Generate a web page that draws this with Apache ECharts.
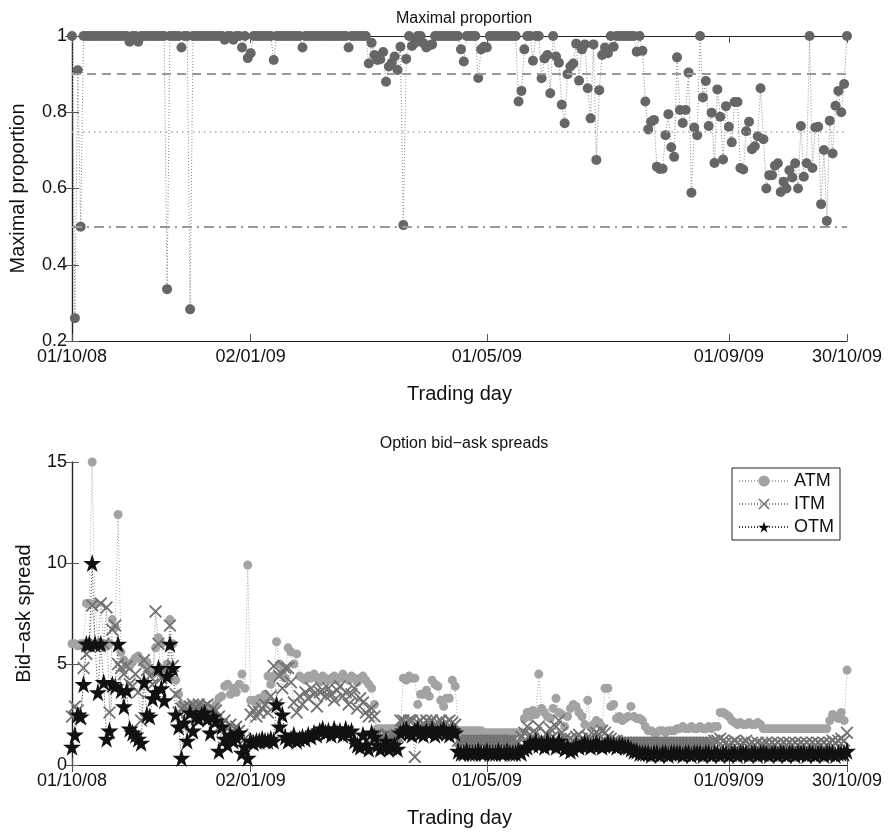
<!DOCTYPE html>
<html>
<head>
<meta charset="utf-8">
<script src="https://cdn.jsdelivr.net/npm/echarts@6/dist/echarts.min.js"></script>
<style>
  html, body { margin: 0; padding: 0; background: #fff; }
  #chart { width: 890px; height: 833px; }
</style>
</head>
<body>
<div id="chart"></div>
<script>
// trading-day ticks (index of trading day) and their date labels
var tickIdx = [0, 62, 144, 228, 269];
var tickLabels = ['01/10/08', '02/01/09', '01/05/09', '01/09/09', '30/10/09'];

// reference levels in the top panel
var refLines = [0.9, 0.75, 0.5];

// maximal proportion, one value per trading day
var maxProp = [
  1, 0.26, 0.91, 0.5, 1, 1, 1, 1, 1, 1,
  1, 1, 1, 1, 1, 1, 1, 1, 1, 1,
  0.985, 1, 1, 0.985, 1, 1, 1, 1, 1, 1,
  1, 1, 1, 0.336, 1, 1, 1, 1, 0.97, 1,
  1, 0.283, 1, 1, 1, 1, 1, 1, 1, 1,
  1, 1, 1, 0.99, 1, 1, 0.99, 1, 1, 0.97,
  1, 0.942, 0.955, 1, 1, 1, 1, 1, 1, 1,
  0.937, 1, 1, 1, 1, 1, 1, 1, 1, 1,
  0.97, 1, 1, 1, 1, 1, 1, 1, 1, 1,
  1, 1, 1, 1, 1, 1, 0.97, 1, 1, 1,
  1, 1, 1, 0.928, 0.982, 0.95, 0.937, 0.939, 0.958, 0.88,
  0.92, 0.93, 0.946, 0.911, 0.972, 0.504, 0.94, 1, 0.974, 0.982,
  1, 1, 0.981, 0.97, 0.975, 0.978, 1, 1, 1, 1,
  1, 1, 1, 1, 1, 0.965, 0.933, 1, 1, 1,
  1, 0.89, 0.965, 0.972, 0.97, 1, 1, 1, 1, 1,
  1, 1, 1, 1, 1, 0.828, 0.856, 0.965, 1, 1,
  0.935, 1, 1, 0.889, 0.941, 0.95, 0.85, 1, 0.946, 0.93,
  0.82, 0.771, 0.9, 0.92, 0.928, 0.98, 0.883, 0.965, 0.978, 0.863,
  0.784, 0.978, 0.675, 0.858, 0.95, 0.97, 0.955, 1, 0.972, 1,
  1, 1, 1, 1, 1, 1, 0.959, 1, 0.961, 0.828,
  0.755, 0.775, 0.78, 0.657, 0.651, 0.652, 0.74, 0.795, 0.708, 0.683,
  0.944, 0.806, 0.772, 0.806, 0.904, 0.589, 0.76, 0.74, 1, 0.839,
  0.882, 0.764, 0.799, 0.667, 0.86, 0.788, 0.676, 0.816, 0.762, 0.721,
  0.827, 0.827, 0.654, 0.65, 0.75, 0.775, 0.703, 0.711, 0.737, 0.863,
  0.729, 0.6, 0.635, 0.635, 0.66, 0.666, 0.591, 0.618, 0.6, 0.648,
  0.629, 0.666, 0.6, 0.764, 0.631, 0.666, 1, 0.654, 0.76, 0.762,
  0.559, 0.701, 0.515, 0.778, 0.692, 0.817, 0.856, 0.8, 0.874, 1
];

// option bid-ask spreads
var atm = [
  6.0, 6.0, 5.9, 6.0, 6.0, 8.0, 8.0, 15.0, 8.0, 6.0,
  6.0, 6.0, 5.9, 6.0, 7.2, 6.8, 12.4, 5.6, 5.2, 5.0,
  4.9, 5.1, 5.3, 5.4, 5.2, 5.0, 5.1, 4.7, 4.5, 5.8,
  6.3, 6.0, 4.6, 5.0, 7.2, 6.0, 4.2, 3.5, 3.0, 2.8,
  2.9, 2.6, 3.0, 3.0, 2.9, 3.0, 2.8, 2.5, 2.6, 2.7,
  3.0, 3.3, 3.4, 3.9, 4.0, 3.5, 3.8, 3.6, 4.0, 4.5,
  3.8, 9.9, 3.2, 3.2, 3.0, 3.3, 3.2, 3.5, 4.4, 4.0,
  4.4, 6.1, 5.0, 4.6, 4.3, 5.8, 5.6, 5.0, 5.5, 4.4,
  4.3, 4.2, 4.4, 4.3, 4.5, 4.3, 4.1, 4.4, 4.3, 4.2,
  4.3, 4.4, 4.2, 4.3, 4.5, 4.3, 4.2, 4.4, 4.3, 4.1,
  4.3, 4.4, 4.2, 4.0, 3.8, 3.0, 1.8, 1.8, 1.8, 1.8,
  1.8, 1.8, 1.8, 1.8, 1.9, 4.3, 4.2, 4.4, 4.3, 4.3,
  3.0, 3.5, 3.5, 3.7, 3.4, 4.2, 4.0, 3.9, 3.2, 2.9,
  3.3, 3.3, 4.2, 3.9, 1.7, 1.7, 1.7, 1.7, 1.7, 1.7,
  1.7, 1.7, 1.7, 1.6, 1.6, 1.6, 1.6, 1.6, 1.6, 1.6,
  1.6, 1.6, 1.6, 1.6, 1.6, 1.6, 1.6, 2.3, 2.6, 2.4,
  2.7, 2.5, 4.5, 2.8, 2.6, 2.4, 2.3, 2.8, 3.3, 2.6,
  2.5, 1.9, 2.4, 2.8, 3.0, 2.9, 2.6, 2.4, 2.0, 3.2,
  1.9, 2.0, 2.2, 2.1, 1.9, 3.8, 3.8, 2.9, 3.0, 2.3,
  2.4, 2.2, 2.3, 2.4, 2.9, 2.4, 2.3, 2.3, 2.2, 1.9,
  1.7, 1.7, 1.6, 1.6, 1.7, 1.7, 1.6, 1.7, 1.7, 1.7,
  1.8, 1.8, 1.9, 1.8, 1.8, 1.9, 1.8, 1.8, 1.9, 1.8,
  1.8, 1.9, 1.8, 1.9, 1.9, 2.6, 2.6, 2.5, 2.4, 2.2,
  2.1, 2.0, 2.1, 2.0, 2.0, 2.1, 2.0, 2.0, 2.1, 2.0,
  1.8, 1.8, 1.8, 1.8, 1.8, 1.8, 1.8, 1.8, 1.8, 1.8,
  1.8, 1.8, 1.8, 1.8, 1.8, 1.8, 1.8, 1.8, 1.8, 1.8,
  1.8, 1.8, 1.8, 2.2, 2.5, 2.4, 2.3, 2.6, 2.2, 4.7
];
var itm = [
  2.4, 2.9, 2.7, 2.3, 4.8, 5.5, 5.9, 7.9, 6.0, 5.9,
  8.0, 6.0, 7.8, 2.6, 6.7, 6.9, 5.0, 4.8, 4.5, 4.9,
  4.0, 3.9, 4.5, 3.6, 2.2, 5.2, 4.7, 4.4, 4.0, 7.6,
  6.0, 4.3, 4.8, 4.5, 6.9, 4.9, 3.5, 2.6, 2.8, 2.9,
  2.6, 2.9, 3.0, 2.8, 3.0, 2.7, 2.9, 3.0, 2.6, 2.8,
  2.7, 2.4, 2.0, 2.2, 1.8, 2.0, 1.6, 1.9, 1.7, 1.5,
  1.3, 1.2, 2.5, 2.7, 2.4, 2.6, 2.8, 3.0, 2.6, 3.4,
  4.9, 3.0, 4.4, 3.8, 4.8, 4.8, 4.1, 3.1, 2.6, 3.4,
  3.0, 3.6, 3.3, 3.8, 3.5, 2.9, 3.6, 3.7, 3.4, 3.8,
  3.5, 3.2, 3.7, 3.9, 3.4, 3.6, 3.0, 3.5, 3.8, 2.8,
  3.3, 3.1, 2.6, 2.4, 2.8, 2.4, 1.5, 1.4, 1.4, 1.5,
  1.4, 1.4, 1.4, 1.4, 2.2, 2.2, 2.1, 2.2, 2.2, 0.4,
  2.1, 2.2, 2.0, 2.2, 2.1, 2.2, 2.0, 2.1, 2.2, 2.0,
  2.1, 2.2, 2.1, 2.0, 1.2, 1.2, 1.2, 1.2, 1.2, 1.2,
  1.2, 1.2, 1.2, 1.2, 1.2, 1.2, 1.2, 1.2, 1.2, 1.2,
  1.2, 1.2, 1.2, 1.2, 1.1, 1.1, 1.4, 1.6, 1.9, 1.5,
  1.3, 1.6, 1.9, 1.3, 1.2, 1.5, 1.8, 1.4, 1.9, 2.2,
  1.6, 1.3, 1.2, 1.3, 1.2, 1.4, 1.5, 1.3, 1.2, 1.4,
  1.3, 1.5, 1.6, 1.5, 1.7, 1.6, 1.4, 1.3, 1.2, 1.2,
  1.1, 1.1, 1.1, 1.1, 1.1, 1.1, 1.1, 1.1, 1.1, 1.1,
  1.1, 1.1, 1.1, 1.1, 1.1, 1.1, 1.1, 1.1, 1.1, 1.1,
  1.1, 1.1, 1.1, 1.1, 1.1, 1.1, 1.1, 1.1, 1.1, 1.1,
  1.1, 1.1, 1.1, 1.2, 1.2, 1.3, 1.2, 1.1, 1.0, 1.1,
  1.2, 1.1, 1.0, 1.1, 1.2, 1.0, 1.1, 1.0, 1.1, 1.0,
  1.0, 1.1, 1.0, 1.1, 1.0, 1.1, 1.0, 1.1, 1.0, 1.1,
  1.0, 1.1, 1.0, 1.1, 1.0, 1.1, 1.0, 1.1, 1.0, 1.1,
  1.0, 1.1, 1.0, 1.1, 1.2, 1.1, 1.2, 1.3, 1.2, 1.6
];
var otm = [
  0.9, 1.5, 2.5, 2.4, 4.0, 6.0, 6.0, 10.0, 6.0, 3.6,
  6.0, 4.1, 1.3, 1.7, 4.0, 3.9, 6.0, 3.7, 2.9, 3.7,
  1.8, 1.6, 1.5, 1.3, 1.1, 4.1, 2.5, 2.4, 3.3, 3.6,
  4.8, 3.8, 3.2, 4.4, 6.0, 4.8, 2.5, 1.9, 0.35, 2.1,
  1.2, 2.6, 1.7, 2.4, 2.3, 2.5, 2.6, 2.3, 1.6, 2.4,
  2.2, 0.7, 1.9, 1.3, 1.0, 1.5, 1.2, 1.4, 1.6, 0.6,
  0.9, 0.35, 1.2, 1.1, 1.2, 1.2, 1.3, 1.2, 1.2, 1.3,
  1.2, 3.0, 1.9, 2.5, 1.4, 1.2, 1.3, 1.5, 1.2, 1.3,
  1.4, 1.3, 1.5, 1.4, 1.6, 1.5, 1.7, 1.8, 1.6, 1.7,
  1.5, 1.8, 1.6, 1.7, 1.5, 1.8, 1.6, 1.7, 1.2, 1.0,
  0.9, 1.5, 1.0, 0.8, 1.6, 1.4, 1.0, 0.8, 0.9, 1.2,
  0.8, 0.9, 1.0, 0.8, 1.6, 1.7, 1.8, 1.6, 1.5, 1.7,
  1.8, 1.6, 1.5, 1.7, 1.6, 1.8, 1.5, 1.6, 1.7, 1.8,
  1.6, 1.5, 1.7, 1.6, 0.7, 0.6, 0.6, 0.7, 0.6, 0.6,
  0.6, 0.7, 0.6, 0.6, 0.7, 0.6, 0.6, 0.6, 0.7, 0.6,
  0.6, 0.7, 0.6, 0.6, 0.6, 0.7, 0.6, 0.8, 0.9, 1.1,
  1.0, 1.2, 1.0, 1.1, 0.9, 1.2, 1.0, 1.1, 0.9, 1.2,
  1.0, 0.8, 0.9, 0.7, 0.8, 1.0, 0.9, 1.0, 1.1, 1.0,
  0.9, 1.0, 1.1, 1.0, 0.9, 1.0, 1.1, 1.0, 1.0, 0.9,
  1.0, 1.0, 0.9, 0.9, 0.8, 0.7, 0.7, 0.6, 0.6, 0.6,
  0.6, 0.5, 0.6, 0.6, 0.5, 0.6, 0.6, 0.5, 0.6, 0.6,
  0.6, 0.6, 0.5, 0.6, 0.6, 0.5, 0.6, 0.6, 0.6, 0.5,
  0.6, 0.6, 0.5, 0.6, 0.6, 0.5, 0.6, 0.6, 0.5, 0.6,
  0.6, 0.5, 0.6, 0.6, 0.6, 0.5, 0.6, 0.6, 0.5, 0.6,
  0.6, 0.6, 0.5, 0.6, 0.6, 0.5, 0.6, 0.6, 0.5, 0.6,
  0.6, 0.5, 0.6, 0.6, 0.6, 0.5, 0.6, 0.6, 0.5, 0.6,
  0.6, 0.5, 0.6, 0.6, 0.6, 0.5, 0.6, 0.6, 0.6, 0.7
];

function pairs(arr) {
  return arr.map(function (v, i) { return [i, v]; });
}

var FONT = 'Liberation Sans';
var STAR = 'path://M50,0L61,35L98,35L68,57L79,91L50,70L21,91L32,57L2,35L39,35Z';
var CROSS = 'path://M2,0L10,8L18,0L20,2L12,10L20,18L18,20L10,12L2,20L0,18L8,10L0,2Z';
var lastIdx = maxProp.length - 1;

function bottomX(gi) {
  return {
    type: 'value', gridIndex: gi, min: 0, max: lastIdx, position: 'bottom',
    name: 'Trading day', nameLocation: 'middle', nameGap: 43,
    nameTextStyle: { fontFamily: FONT, fontSize: 20, color: '#111' },
    axisLine: { lineStyle: { color: '#222', width: 1.2 } },
    axisTick: { inside: true, length: 7, customValues: tickIdx, lineStyle: { color: '#555' } },
    axisLabel: {
      customValues: tickIdx, margin: 7,
      fontFamily: FONT, fontSize: 18, color: '#111',
      formatter: function (v) { return tickLabels[tickIdx.indexOf(v)]; }
    },
    splitLine: { show: false }
  };
}
function topX(gi) {
  return {
    type: 'value', gridIndex: gi, min: 0, max: lastIdx, position: 'top',
    axisLine: { lineStyle: { color: '#222', width: 1.2 } },
    axisTick: { inside: true, length: 7, customValues: tickIdx, lineStyle: { color: '#555' } },
    axisLabel: { show: false }, splitLine: { show: false }
  };
}
function leftY(gi, min, max, step, name, gap) {
  return {
    type: 'value', gridIndex: gi, min: min, max: max, interval: step, position: 'left',
    name: name, nameLocation: 'middle', nameGap: gap,
    nameTextStyle: { fontFamily: FONT, fontSize: 20, color: '#111' },
    axisLine: { show: true, lineStyle: { color: '#222', width: 1.2 } },
    axisTick: { show: true, inside: true, length: 7, lineStyle: { color: '#555' } },
    axisLabel: { fontFamily: FONT, fontSize: 18, color: '#111', margin: 5 },
    splitLine: { show: false }
  };
}
function rightY(gi, min, max, step) {
  return {
    type: 'value', gridIndex: gi, min: min, max: max, interval: step, position: 'right',
    axisLine: { show: true, lineStyle: { color: '#222', width: 1.2 } },
    axisTick: { show: true, inside: true, length: 7, lineStyle: { color: '#555' } },
    axisLabel: { show: false }, splitLine: { show: false }
  };
}

var chart = echarts.init(document.getElementById('chart'));
chart.setOption({
  animation: false,
  backgroundColor: '#fff',
  title: [
    { text: 'Maximal proportion', left: 459, top: 6, textAlign: 'center',
      textStyle: { fontFamily: FONT, fontSize: 16, fontWeight: 'normal', color: '#111' } },
    { text: 'Option bid\u2212ask spreads', left: 459, top: 431, textAlign: 'center',
      textStyle: { fontFamily: FONT, fontSize: 16, fontWeight: 'normal', color: '#111' } }
  ],
  grid: [
    { left: 72, right: 43, top: 36, height: 305 },
    { left: 72, right: 43, top: 462, height: 303 }
  ],
  xAxis: [bottomX(0), topX(0), bottomX(1), topX(1)],
  yAxis: [
    leftY(0, 0.2, 1, 0.2, 'Maximal proportion', 44),
    rightY(0, 0.2, 1, 0.2),
    leftY(1, 0, 15, 5, 'Bid\u2212ask spread', 38),
    rightY(1, 0, 15, 5)
  ],
  legend: {
    data: ['ATM', 'ITM', 'OTM'],
    orient: 'vertical', right: 50, top: 468,
    backgroundColor: '#fff', borderColor: '#222', borderWidth: 1,
    padding: [4, 6, 4, 6], itemGap: 5, itemWidth: 50, itemHeight: 14,
    textStyle: { fontFamily: FONT, fontSize: 18, color: '#111' }
  },
  series: [
    {
      name: 'Maximal proportion', type: 'line', xAxisIndex: 0, yAxisIndex: 0,
      data: pairs(maxProp),
      symbol: 'circle', symbolSize: 10,
      itemStyle: { color: '#666' },
      lineStyle: { color: '#888', width: 1, type: [1, 2] },
      markLine: {
        silent: true, symbol: 'none', label: { show: false },
        data: [
          { yAxis: refLines[0], lineStyle: { color: '#999', width: 2, type: [9, 6] } },
          { yAxis: refLines[1], lineStyle: { color: '#aaa', width: 1.5, type: [1.5, 4] } },
          { yAxis: refLines[2], lineStyle: { color: '#999', width: 2, type: [10, 5, 2, 5] } }
        ]
      }
    },
    {
      name: 'ATM', type: 'line', xAxisIndex: 2, yAxisIndex: 2,
      data: pairs(atm),
      symbol: 'circle', symbolSize: 9,
      itemStyle: { color: '#a3a3a3' },
      lineStyle: { color: '#aaa', width: 1, type: [1, 2] }
    },
    {
      name: 'ITM', type: 'line', xAxisIndex: 2, yAxisIndex: 2,
      data: pairs(itm),
      symbol: CROSS, symbolSize: 13,
      itemStyle: { color: '#727272' },
      lineStyle: { color: '#888', width: 1, type: [1, 2] }
    },
    {
      name: 'OTM', type: 'line', xAxisIndex: 2, yAxisIndex: 2,
      data: pairs(otm),
      symbol: STAR, symbolSize: 18,
      itemStyle: { color: '#111' },
      lineStyle: { color: '#444', width: 1, type: [1, 2] }
    }
  ]
});
</script>
</body>
</html>
